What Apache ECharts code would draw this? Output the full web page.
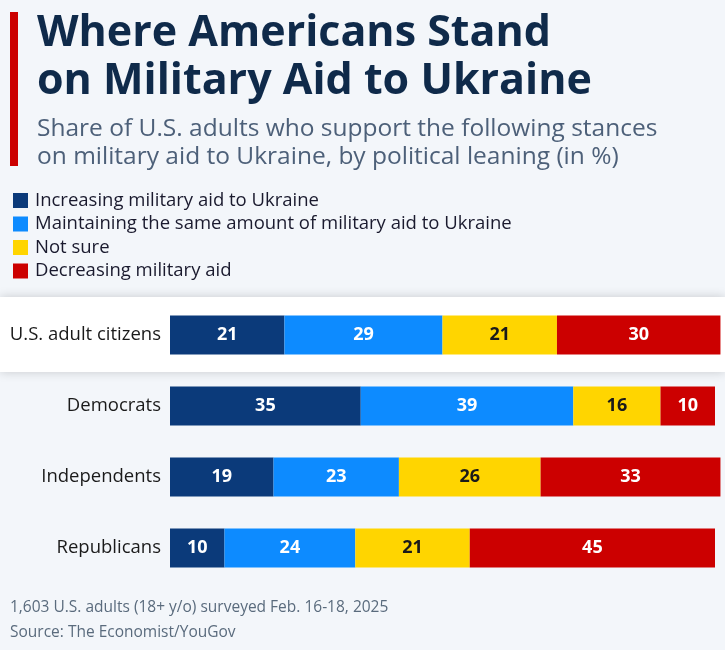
<!DOCTYPE html>
<html><head><meta charset="utf-8">
<script src="https://cdn.jsdelivr.net/npm/echarts@6/dist/echarts.min.js"></script>
<style>html,body{margin:0;padding:0;background:#f3f6fa;}#c{width:725px;height:650px;}</style>
</head><body><div id="c"></div>
<script>
const categories = ["U.S. adult citizens", "Democrats", "Independents", "Republicans"];
const seriesNames = ["Increasing military aid to Ukraine", "Maintaining the same amount of military aid to Ukraine", "Not sure", "Decreasing military aid"];
const increasing = [21, 35, 19, 10];
const maintaining = [29, 39, 23, 24];
const notSure = [21, 16, 26, 21];
const decreasing = [30, 10, 33, 45];
const colors = ["#0b3a7a", "#0d8bff", "#ffd500", "#cc0000"];
const labelColors = ["#ffffff", "#ffffff", "#1a1a1a", "#ffffff"];
const values = [increasing, maintaining, notSure, decreasing];

const chart = echarts.init(document.getElementById('c'), null, {renderer: 'canvas'});
const font = "'Open Sans', sans-serif";
chart.setOption({
  backgroundColor: '#f3f6fa',
  animation: false,
  title: {
    text: 'Where Americans Stand\non Military Aid to Ukraine',
    subtext: 'Share of U.S. adults who support the following stances\non military aid to Ukraine, by political leaning (in %)',
    left: 32, top: 5, itemGap: 9,
    textStyle: {fontFamily: font, fontWeight: 'bold', fontSize: 43, lineHeight: 48, color: '#0f2a4a'},
    subtextStyle: {fontFamily: font, fontSize: 24.5, lineHeight: 28, color: '#4d6079'}
  },
  legend: {
    orient: 'vertical', left: 8, top: 186, itemWidth: 15, itemHeight: 15, itemGap: 4.5,
    icon: 'rect', selectedMode: false,
    textStyle: {fontFamily: font, fontSize: 18.5, lineHeight: 18, color: '#1a1a2e', padding: [0,0,0,2]},
    data: seriesNames
  },
  graphic: [
    {type: 'rect', left: 10, top: 12, shape: {width: 8, height: 154}, style: {fill: '#cc0000'}},
    {type: 'rect', left: 0, top: 297, z: -1, shape: {width: 725, height: 75},
      style: {fill: '#ffffff', shadowBlur: 10, shadowColor: 'rgba(0,0,0,0.18)', shadowOffsetY: 0}},
    {type: 'text', left: 10, top: 600, style: {text: '1,603 U.S. adults (18+ y/o) surveyed Feb. 16-18, 2025', fontFamily: font, fontSize: 15.5, fill: '#5a6b7d'}},
    {type: 'text', left: 10, top: 625, style: {text: 'Source: The Economist/YouGov', fontFamily: font, fontSize: 15.5, fill: '#5a6b7d'}}
  ],
  grid: {left: 170, right: 10, top: 299.5, height: 284},
  xAxis: {type: 'value', min: 0, max: 100, show: false},
  yAxis: {type: 'category', inverse: true, data: categories,
    axisLine: {show: false}, axisTick: {show: false},
    axisLabel: {margin: 9, fontFamily: font, fontSize: 18.5, color: '#1a1a1a'}},
  series: seriesNames.map((n, i) => ({
    name: n, type: 'bar', stack: 'total', barWidth: 39, clip: false,
    itemStyle: {color: colors[i]},
    label: {show: true, position: 'inside', fontFamily: font, fontWeight: 'bold', fontSize: 18, color: labelColors[i]},
    data: values[i]
  }))
});
</script></body></html>
